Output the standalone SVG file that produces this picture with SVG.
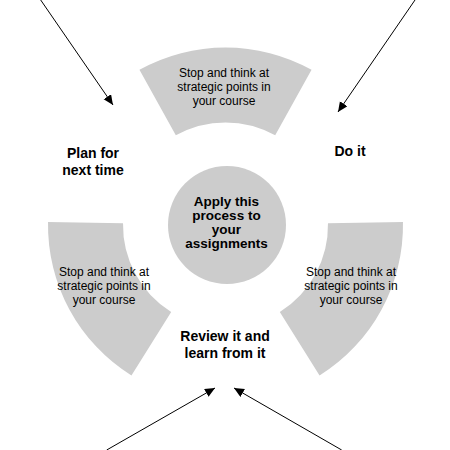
<svg xmlns="http://www.w3.org/2000/svg" width="450" height="450" viewBox="0 0 450 450">
<defs>
<style>
.sector{fill:#cccccc;stroke:none}
.note{font-family:"Liberation Sans",Arial,sans-serif;font-size:12px;fill:#000;text-anchor:middle}
.label{font-family:"Liberation Sans",Arial,sans-serif;font-size:14px;font-weight:bold;fill:#000;text-anchor:middle}
.clabel{font-family:"Liberation Sans",Arial,sans-serif;font-size:13.5px;font-weight:bold;fill:#000;text-anchor:middle}
.conn{stroke:#000;stroke-width:1;fill:none;marker-end:url(#arr)}
</style>
<marker id="arr" markerUnits="userSpaceOnUse" markerWidth="12" markerHeight="10" refX="10" refY="4.5" orient="auto">
<path d="M0,0 L10,4.5 L0,9 Z" fill="#000"/>
</marker>
</defs>
<rect width="450" height="450" fill="#fff"/>
<g id="sector-top">
<path class="sector" d="M139.45 69.76 A177.5 177.5 0 0 1 311.55 69.76 L275.19 135.35 A102.5 102.5 0 0 0 175.81 135.35 Z"/>
<text class="note" x="224" y="77">Stop and think at</text>
<text class="note" x="224" y="91">strategic points in</text>
<text class="note" x="224" y="105">your course</text>
</g>
<g id="sector-left">
<path class="sector" d="M48.03 221.9 L123.02 223.21 A102.5 102.5 0 0 0 171.18 311.92 L131.44 375.52 A177.5 177.5 0 0 1 48.03 221.9 Z"/>
<text class="note" x="104" y="276">Stop and think at</text>
<text class="note" x="104" y="290">strategic points in</text>
<text class="note" x="104" y="304">your course</text>
</g>
<g id="sector-right">
<path class="sector" d="M402.97 221.9 A177.5 177.5 0 0 1 319.56 375.52 L279.82 311.92 A102.5 102.5 0 0 0 327.98 223.21 Z"/>
<text class="note" x="351" y="276">Stop and think at</text>
<text class="note" x="351" y="290">strategic points in</text>
<text class="note" x="351" y="304">your course</text>
</g>
<g id="center">
<circle cx="227" cy="225" r="59" fill="#cccccc"/>
<text class="clabel" x="226.5" y="206">Apply this</text>
<text class="clabel" x="226.5" y="220">process to</text>
<text class="clabel" x="226.5" y="234">your</text>
<text class="clabel" x="226.5" y="248">assignments</text>
</g>
<g id="plan">
<text class="label" x="93" y="158">Plan for</text>
<text class="label" x="93" y="175">next time</text>
</g>
<g id="do">
<text class="label" x="350" y="156">Do it</text>
</g>
<g id="review">
<text class="label" x="225" y="341">Review it and</text>
<text class="label" x="225" y="358">learn from it</text>
</g>
<g id="connectors">
<line class="conn" x1="40.7" y1="0" x2="113" y2="105"/>
<line class="conn" x1="415" y1="0" x2="338" y2="112"/>
<line class="conn" x1="106.7" y1="450" x2="215" y2="388"/>
<line class="conn" x1="341.7" y1="450" x2="234" y2="388"/>
</g>
</svg>
